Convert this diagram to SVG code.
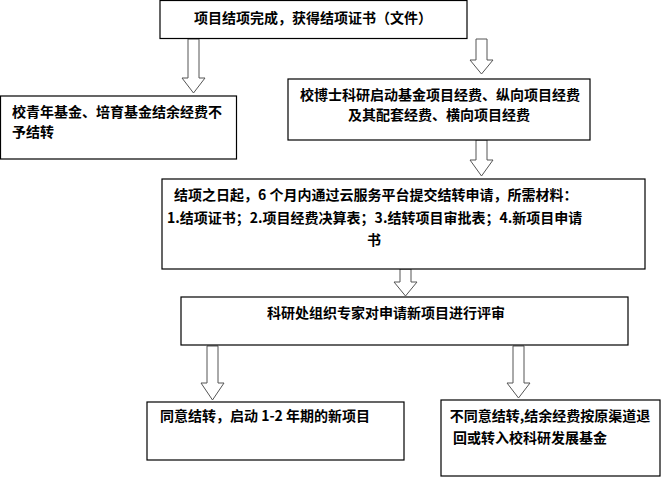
<svg xmlns="http://www.w3.org/2000/svg" width="667" height="478" viewBox="0 0 667 478">
<style>
.b{fill:#fff;stroke:#000;stroke-width:1.2}
.a{fill:#fff;stroke:#555;stroke-width:1}
text{font-family:"Noto Sans CJK SC","Liberation Sans",sans-serif;font-size:14px;font-weight:bold;fill:#000}
</style>
<rect width="667" height="478" fill="#fff"/>
<g id="connectors">
<path class="a" d="M188,39 H199 V78 H205 L193.5,93 L182,78 H188 Z"/>
<path class="a" d="M476,39 H487 V60 H493 L481.5,74 L470,60 H476 Z"/>
<path class="a" d="M476,140 H487 V160 H493 L481.5,176 L470,160 H476 Z"/>
<path class="a" d="M400,269 H411 V282 H417 L405.5,296 L394,282 H400 Z"/>
<path class="a" d="M207,346 H218 V383 H224 L212.5,400 L201,383 H207 Z"/>
<path class="a" d="M513,346 H524 V383 H530 L518.5,398 L507,383 H513 Z"/>
</g>
<g id="n1"><rect class="b" x="160" y="0.5" width="307" height="38"/><text x="313" y="23" text-anchor="middle">项目结项完成，获得结项证书（文件）</text></g>
<g id="n2"><rect class="b" x="0.5" y="96" width="236" height="63"/><text x="12" y="117">校青年基金、培育基金结余经费不</text><text x="12" y="137">予结转</text></g>
<g id="n3"><rect class="b" x="288" y="79" width="302" height="61"/><text x="300" y="100">校博士科研启动基金项目经费、纵向项目经费</text><text x="439" y="120" text-anchor="middle">及其配套经费、横向项目经费</text></g>
<g id="n4"><rect class="b" x="162" y="179" width="483" height="90"/><text x="174" y="200">结项之日起，6 个月内通过云服务平台提交结转申请，所需材料：</text><text x="167" y="223" font-size="13.5">1.结项证书；2.项目经费决算表；3.结转项目审批表；4.新项目申请</text><text x="374" y="245" text-anchor="middle">书</text></g>
<g id="n5"><rect class="b" x="181" y="297" width="447" height="48"/><text x="386" y="318" text-anchor="middle">科研处组织专家对申请新项目进行评审</text></g>
<g id="n6"><rect class="b" x="147" y="402" width="257" height="58"/><text x="160" y="421">同意结转，启动 1-2 年期的新项目</text></g>
<g id="n7"><rect class="b" x="441" y="400" width="219" height="76"/><text x="550" y="421" text-anchor="middle">不同意结转,结余经费按原渠道退</text><text x="453" y="443">回或转入校科研发展基金</text></g>
</svg>
